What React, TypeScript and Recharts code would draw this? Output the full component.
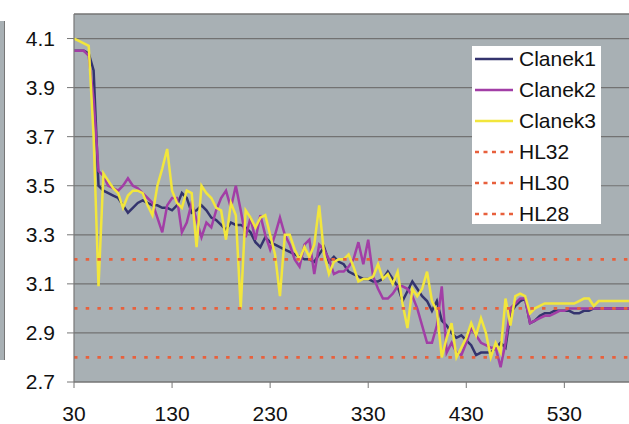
import React from 'react';
import { LineChart, Line, XAxis, YAxis, CartesianGrid, ReferenceLine } from 'recharts';

const xValues = [
  30, 35, 40, 45, 50, 55, 60, 65, 70, 75,
  80, 85, 90, 95, 100, 105, 110, 115, 120, 125,
  130, 135, 140, 145, 150, 155, 160, 165, 170, 175,
  180, 185, 190, 195, 200, 205, 210, 215, 220, 225,
  230, 235, 240, 245, 250, 255, 260, 265, 270, 275,
  280, 285, 290, 295, 300, 305, 310, 315, 320, 325,
  330, 335, 340, 345, 350, 355, 360, 365, 370, 375,
  380, 385, 390, 395, 400, 405, 410, 415, 420, 425,
  430, 435, 440, 445, 450, 455, 460, 465, 470, 475,
  480, 485, 490, 495, 500, 505, 510, 515, 520, 525,
  530, 535, 540, 545, 550, 555, 560, 565, 570, 575,
  580, 585, 590, 595, 600,
];

const clanek1 = [
  4.05, 4.05, 4.05, 4.04, 3.97, 3.50, 3.48, 3.47, 3.46, 3.45,
  3.42, 3.39, 3.41, 3.43, 3.44, 3.43, 3.42, 3.42, 3.41, 3.41,
  3.40, 3.42, 3.47, 3.45, 3.39, 3.40, 3.42, 3.40, 3.37, 3.36,
  3.34, 3.32, 3.35, 3.34, 3.34, 3.33, 3.31, 3.27, 3.25, 3.29,
  3.27, 3.26, 3.25, 3.24, 3.23, 3.22, 3.21, 3.20, 3.20, 3.19,
  3.22, 3.25, 3.19, 3.21, 3.19, 3.18, 3.15, 3.14, 3.13, 3.12,
  3.12, 3.11, 3.11, 3.12, 3.15, 3.12, 3.09, 3.03, 3.07, 3.11,
  3.08, 3.05, 3.03, 2.99, 3.03, 2.95, 2.93, 2.90, 2.88, 2.89,
  2.87, 2.85, 2.81, 2.82, 2.82, 2.82, 2.84, 2.86, 2.84, 2.98,
  3.01, 3.03, 3.04, 2.94, 2.95, 2.97, 2.98, 2.98, 2.99, 2.99,
  2.99, 2.99, 2.98, 2.98, 2.99, 2.99, 3.00, 3.00, 3.00, 3.00,
  3.00, 3.00, 3.00, 3.00, 3.00,
];

const clanek2 = [
  4.05, 4.05, 4.05, 4.03, 3.85, 3.56, 3.54, 3.50, 3.49, 3.48,
  3.50, 3.53, 3.50, 3.49, 3.47, 3.45, 3.43, 3.37, 3.31, 3.42,
  3.45, 3.45, 3.31, 3.35, 3.43, 3.36, 3.29, 3.35, 3.33, 3.40,
  3.45, 3.48, 3.41, 3.50, 3.40, 3.29, 3.37, 3.28, 3.38, 3.30,
  3.24, 3.30, 3.37, 3.30, 3.26, 3.20, 3.17, 3.26, 3.28, 3.14,
  3.26, 3.24, 3.20, 3.14, 3.15, 3.15, 3.17, 3.20, 3.27, 3.18,
  3.28, 3.13, 3.08, 3.04, 3.04, 3.06, 3.09, 3.09, 3.08, 3.05,
  3.00, 2.93, 2.86, 2.86, 2.93, 3.09, 2.82, 2.86, 2.82, 2.81,
  2.86, 2.92, 2.89, 2.86, 2.85, 2.84, 2.84, 2.76, 2.86, 3.00,
  3.02, 3.04, 3.04, 2.94, 2.95, 2.96, 2.97, 2.97, 2.98, 2.99,
  2.99, 3.00, 3.00, 3.00, 3.00, 3.00, 3.00, 3.00, 3.00, 3.00,
  3.00, 3.00, 3.00, 3.00, 3.00,
];

const clanek3 = [
  4.10, 4.09, 4.08, 4.07, 3.70, 3.09, 3.55, 3.52, 3.49, 3.47,
  3.41, 3.46, 3.48, 3.48, 3.47, 3.42, 3.38, 3.50, 3.57, 3.65,
  3.48, 3.43, 3.41, 3.48, 3.47, 3.25, 3.50, 3.47, 3.45, 3.41,
  3.40, 3.28, 3.43, 3.38, 3.00, 3.40, 3.37, 3.33, 3.37, 3.38,
  3.30, 3.22, 3.05, 3.30, 3.30, 3.24, 3.20, 3.25, 3.21, 3.26,
  3.42, 3.22, 3.14, 3.19, 3.20, 3.20, 3.22, 3.17, 3.11, 3.12,
  3.12, 3.13, 3.18, 3.12, 3.14, 3.10, 3.15, 3.02, 2.92, 3.08,
  3.05, 3.08, 3.15, 3.03, 2.99, 2.80, 2.88, 2.94, 2.80, 2.84,
  2.88, 2.94, 2.89, 2.96, 2.90, 2.80, 2.86, 2.82, 3.04, 2.93,
  3.05, 3.06, 3.05, 2.98, 3.00, 3.01, 3.02, 3.02, 3.02, 3.02,
  3.02, 3.02, 3.02, 3.03, 3.04, 3.04, 3.01, 3.03, 3.03, 3.03,
  3.03, 3.03, 3.03, 3.03, 3.03,
];

const hlNames = ['HL32', 'HL30', 'HL28'];
const hlValues = [3.2, 3.0, 2.8];

const yTicks = [2.7, 2.9, 3.1, 3.3, 3.5, 3.7, 3.9, 4.1];
const xTicks = [30, 130, 230, 330, 430, 530];

const seriesNames = ['Clanek1', 'Clanek2', 'Clanek3'];
const seriesColors = ['#34346e', '#a23ea6', '#f2e63c'];
const hlColor = '#e8603c';

const data = xValues.map((x, i) => {
  const row: Record<string, number> = {
    x,
    Clanek1: clanek1[i],
    Clanek2: clanek2[i],
    Clanek3: clanek3[i],
  };
  hlNames.forEach((n, k) => {
    row[n] = hlValues[k];
  });
  return row;
});

const FONT = '"Liberation Sans", Arial, sans-serif';

const LegendBox = () => {
  const entries = [
    ...seriesNames.map((n, i) => ({ name: n, color: seriesColors[i], dash: undefined as string | undefined })),
    ...hlNames.map((n) => ({ name: n, color: hlColor, dash: '4 4.5' })),
  ];
  return (
    <div
      style={{
        position: 'absolute',
        left: 472,
        top: 46,
        width: 129,
        height: 178,
        background: '#ffffff',
        fontFamily: FONT,
        fontSize: 21,
        color: '#111',
        overflow: 'hidden',
      }}
    >
      <div style={{ marginTop: -3 }}>
        {entries.map((e) => (
          <div key={e.name} style={{ height: 31, display: 'flex', alignItems: 'center' }}>
            <svg width={44} height={10} style={{ marginLeft: 3, flex: 'none' }}>
              <line
                x1={0}
                y1={5}
                x2={38}
                y2={5}
                stroke={e.color}
                strokeWidth={2.5}
                strokeDasharray={e.dash}
              />
            </svg>
            <span style={{ whiteSpace: 'nowrap', lineHeight: '31px' }}>{e.name}</span>
          </div>
        ))}
      </div>
    </div>
  );
};

export default function App() {
  return (
    <div
      style={{
        position: 'absolute',
        left: 0,
        top: 0,
        width: 629,
        height: 424,
        overflow: 'hidden',
        background: '#ffffff',
      }}
    >
      <div
        style={{
          position: 'absolute',
          left: 0,
          top: 21,
          width: 4,
          height: 339,
          background: '#a8b0b4',
          borderRight: '1px solid #777',
        }}
      />
      <LineChart
        width={640}
        height={424}
        data={data}
        margin={{ top: 14, right: 7, bottom: 0, left: 0 }}
        style={{ fontFamily: FONT }}
      >
        <CartesianGrid
          horizontal
          vertical={false}
          fill="#a8b0b4"
          fillOpacity={1}
          stroke="#727272"
          strokeWidth={1.2}
        />
        <XAxis
          dataKey="x"
          type="number"
          domain={[30, 600]}
          ticks={xTicks}
          height={42}
          tickSize={6}
          tickMargin={18}
          axisLine={{ stroke: '#777', strokeWidth: 1.2 }}
          tickLine={{ stroke: '#777' }}
          tick={{ fill: '#111', fontSize: 21, fontFamily: FONT }}
          interval={0}
        />
        <YAxis
          type="number"
          domain={[2.7, 4.2]}
          ticks={yTicks}
          width={74}
          tickSize={7}
          tickMargin={12}
          allowDataOverflow
          axisLine={{ stroke: '#777', strokeWidth: 1.2 }}
          tickLine={{ stroke: '#777' }}
          tick={{ fill: '#111', fontSize: 21, fontFamily: FONT }}
          tickFormatter={(v: number) => v.toFixed(1)}
          interval={0}
        />
        <ReferenceLine y={4.2} stroke="#777" strokeWidth={1.2} />
        {seriesNames.map((n, i) => (
          <Line
            key={n}
            type="linear"
            dataKey={n}
            stroke={seriesColors[i]}
            strokeWidth={2.5}
            dot={false}
            activeDot={false}
            isAnimationActive={false}
          />
        ))}
        {hlNames.map((n) => (
          <Line
            key={n}
            type="linear"
            dataKey={n}
            stroke={hlColor}
            strokeWidth={2.7}
            strokeDasharray="3.5 8.2"
            dot={false}
            activeDot={false}
            isAnimationActive={false}
          />
        ))}
      </LineChart>
      <LegendBox />
    </div>
  );
}
